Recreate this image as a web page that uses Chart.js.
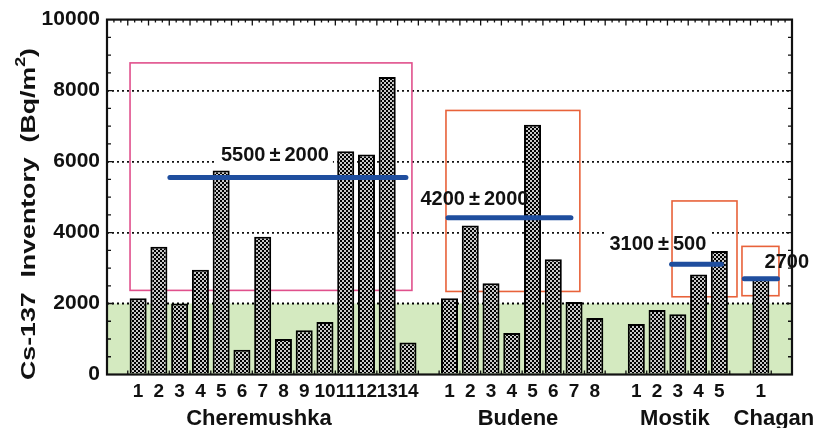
<!DOCTYPE html>
<html><head><meta charset="utf-8">
<script src="https://cdn.jsdelivr.net/npm/chart.js@4.4.1/dist/chart.umd.min.js"></script>
<style>html,body{margin:0;padding:0;background:#fff}</style>
</head><body>
<canvas id="c" width="817" height="428"></canvas>
<script>
// ---- data ----
const groupNames = ['Cheremushka', 'Budene', 'Mostik', 'Chagan'];
const cheremushka = [2150, 3600, 2000, 2950, 5750, 700, 3880, 1000, 1250, 1480, 6290, 6200, 8380, 900];
const budene = [2150, 4200, 2570, 1170, 7040, 3250, 2040, 1590];
const mostik = [1420, 1820, 1700, 2820, 3480];
const chagan = [2700];
const groupMeans = [5550, 4420, 3110, 2700];
const meanLabels = ['5500\u2009\u00B1\u20092000', '4200\u2009\u00B1\u20092000', '3100\u2009\u00B1\u2009500', '2700'];
const yTickValues = [0, 2000, 4000, 6000, 8000, 10000];
const bandTop = 2000;

// ---- build category slots (empty slot before, between and after groups) ----
const groups = [cheremushka, budene, mostik, chagan];
const labels = [''];
const values = [null];
groups.forEach((g) => {
  g.forEach((v, i) => { labels.push(String(i + 1)); values.push(v); });
  labels.push(''); values.push(null);
});

// ---- annotation geometry (in axis units: slot index / y value) ----
const boxes = [
  { x0: 0.61, x1: 14.19, y0: 2370, y1: 8780, color: '#e0508c' },
  { x0: 15.83, x1: 22.28, y0: 2340, y1: 7440, color: '#e8623a' },
  { x0: 26.72, x1: 29.85, y0: 2190, y1: 4890, color: '#e8623a' },
  { x0: 30.09, x1: 31.87, y0: 2220, y1: 3610, color: '#e8623a' }
];
const meanLines = [[2.53, 13.9], [15.93, 21.85], [26.7, 29.1], [30.2, 31.8]];
const meanLabelPos = [[7.59, 6200], [17.2, 4970], [26.04, 3690], [32.25, 3180]];
const groupLabelX = [6.82, 19.3, 26.86, 31.63];

const FONT = '"Liberation Sans", Arial, sans-serif';
const canvas = document.getElementById('c');
const ctx0 = canvas.getContext('2d');
const pc = document.createElement('canvas'); pc.width = 4; pc.height = 4;
const pg = pc.getContext('2d');
pg.fillStyle = '#c8c8c8'; pg.fillRect(0, 0, 4, 4);
pg.fillStyle = '#000'; pg.fillRect(0, 0, 2, 2); pg.fillRect(2, 2, 2, 2);
const pattern = ctx0.createPattern(pc, 'repeat');

function xp(chart, f) {
  const x = chart.scales.x;
  const p0 = x.getPixelForValue(0), p1 = x.getPixelForValue(1);
  return p0 + f * (p1 - p0);
}

const decor = {
  id: 'decor',
  beforeDatasetsDraw(chart) {
    const { ctx, chartArea: a, scales: { y } } = chart;
    ctx.save();
    // green band
    ctx.fillStyle = '#d4eac0';
    const yb = y.getPixelForValue(bandTop);
    ctx.fillRect(a.left, yb, a.right - a.left, a.bottom - yb);
    // 2000 dotted line on top of band
    ctx.strokeStyle = '#000'; ctx.lineWidth = 1.8; ctx.setLineDash([2, 3]);
    ctx.beginPath(); ctx.moveTo(a.left, yb); ctx.lineTo(a.right, yb); ctx.stroke();
    ctx.setLineDash([]);
    // white backgrounds of labels
    ctx.font = 'bold 20px ' + FONT;
    meanLabels.forEach((t, i) => {
      const w = ctx.measureText(t).width;
      const cx = xp(chart, meanLabelPos[i][0]);
      const cy = y.getPixelForValue(meanLabelPos[i][1]);
      ctx.fillStyle = '#fff';
      ctx.fillRect(cx - w / 2 - 4, cy - 13, w + 8, 26);
    });
    // boxes
    ctx.lineWidth = 1.6;
    boxes.forEach(b => {
      ctx.strokeStyle = b.color;
      const x0 = xp(chart, b.x0), x1 = xp(chart, b.x1);
      const y0 = y.getPixelForValue(b.y0), y1 = y.getPixelForValue(b.y1);
      ctx.strokeRect(x0, y1, x1 - x0, y0 - y1);
    });
    ctx.restore();
  },
  afterDatasetsDraw(chart) {
    const { ctx, chartArea: a, scales: { y } } = chart;
    ctx.save();
    // mean lines
    ctx.strokeStyle = '#1f4e9e'; ctx.lineWidth = 5; ctx.lineCap = 'round';
    meanLines.forEach((m, i) => {
      const py = y.getPixelForValue(groupMeans[i]);
      ctx.beginPath(); ctx.moveTo(xp(chart, m[0]), py); ctx.lineTo(xp(chart, m[1]), py); ctx.stroke();
    });
    // mean labels
    ctx.fillStyle = '#111'; ctx.font = 'bold 20px ' + FONT;
    ctx.textAlign = 'center'; ctx.textBaseline = 'middle';
    meanLabels.forEach((t, i) => {
      ctx.fillText(t, xp(chart, meanLabelPos[i][0]), y.getPixelForValue(meanLabelPos[i][1]) + 1);
    });
    // frame
    ctx.strokeStyle = '#111'; ctx.lineWidth = 2.2; ctx.lineCap = 'butt';
    ctx.strokeRect(a.left, a.top, a.right - a.left, a.bottom - a.top);
    // minor ticks left/right every 500
    ctx.lineWidth = 1.3;
    ctx.beginPath();
    for (let v = 500; v < 10000; v += 500) {
      const py = y.getPixelForValue(v);
      const len = v % 2000 === 0 ? 6 : 4;
      ctx.moveTo(a.left, py); ctx.lineTo(a.left + len, py);
      ctx.moveTo(a.right, py); ctx.lineTo(a.right - len, py);
    }
    // top ticks
    const n = labels.length;
    for (let k = 0; k <= n * 3; k++) {
      const px = xp(chart, k / 3 - 0.5);
      const len = k % 3 === 0 ? 6 : 3;
      ctx.moveTo(px, a.top); ctx.lineTo(px, a.top + len);
    }
    // bottom ticks
    for (let k = 0; k <= n; k++) {
      const px = xp(chart, k - 0.5);
      ctx.moveTo(px, a.bottom); ctx.lineTo(px, a.bottom - 4);
    }
    ctx.stroke();
    // group labels
    ctx.font = 'bold 22px ' + FONT; ctx.textBaseline = 'alphabetic';
    groupNames.forEach((g, i) => ctx.fillText(g, xp(chart, groupLabelX[i]), 425));
    // y title
    ctx.translate(28, 214); ctx.rotate(-Math.PI / 2);
    const main = 'Cs-137  Inventory  (Bq/m', sup = '2', end = ')';
    ctx.font = 'bold 21px ' + FONT;
    const wMain = ctx.measureText(main).width, wEnd = ctx.measureText(end).width;
    ctx.font = 'bold 14px ' + FONT;
    const wSup = ctx.measureText(sup).width;
    const total = wMain + wSup + wEnd;
    const s = 332 / total;
    ctx.scale(s, 1);
    ctx.textAlign = 'left'; ctx.textBaseline = 'middle';
    let sx = -total / 2;
    ctx.font = 'bold 21px ' + FONT; ctx.fillText(main, sx, 1); sx += wMain;
    ctx.font = 'bold 14px ' + FONT; ctx.fillText(sup, sx, -7); sx += wSup;
    ctx.font = 'bold 21px ' + FONT; ctx.fillText(end, sx, 1);
    ctx.restore();
  }
};

new Chart(canvas, {
  type: 'bar',
  data: {
    labels: labels,
    datasets: [{
      data: values,
      backgroundColor: pattern,
      borderColor: '#000',
      borderWidth: 2,
      barPercentage: 0.82,
      categoryPercentage: 1.0
    }]
  },
  options: {
    responsive: false,
    devicePixelRatio: 1,
    animation: false,
    layout: { padding: { left: 0, right: 25, top: 16, bottom: 0 } },
    plugins: { legend: { display: false }, tooltip: { enabled: false } },
    scales: {
      x: {
        offset: true,
        grid: { display: false, drawTicks: false },
        border: { display: false },
        ticks: {
          autoSkip: false, maxRotation: 0, minRotation: 0, padding: 6,
          color: '#111', font: { family: FONT, size: 19, weight: 'bold' }
        },
        afterFit(s) { s.height = 53.5; }
      },
      y: {
        min: 0, max: 10000,
        afterBuildTicks(s) { s.ticks = yTickValues.map(v => ({ value: v })); },
        grid: {
          drawTicks: false, lineWidth: 1.8,
          color: c => (c.tick && (c.tick.value === 0 || c.tick.value === 10000)) ? 'rgba(0,0,0,0)' : '#111'
        },
        border: { display: false, dash: [2, 3] },
        ticks: {
          padding: 7, color: '#111',
          font: { family: FONT, size: 21, weight: 'bold' },
          callback: v => String(v)
        },
        afterFit(s) { s.width = 107; }
      }
    }
  },
  plugins: [decor]
});
</script>
</body></html>
